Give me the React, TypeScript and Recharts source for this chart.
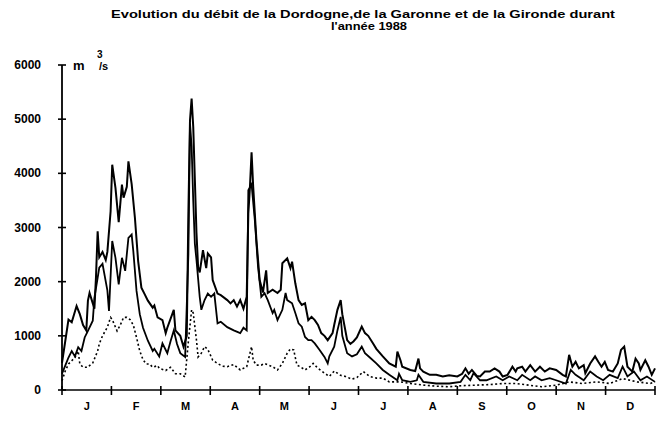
import React from 'react'
import { LineChart, Line, XAxis, YAxis } from 'recharts'

// day of year (0 = 1 Jan 1988) and daily flow in m3/s
const girondeDays = [0, 2, 4, 6, 9, 11, 13, 15, 16, 17, 19, 20, 21, 22, 23, 25, 27, 28, 30, 31, 33, 35, 37, 38, 40, 41, 43, 45, 47, 49, 51, 53, 56, 57, 59, 62, 64, 65, 69, 70, 73, 75, 77, 78, 79, 80, 81, 82, 83, 84, 85, 87, 89, 90, 92, 93, 96, 98, 102, 104, 106, 108, 110, 112, 114, 115, 116, 117, 118, 120, 122, 124, 126, 127, 130, 133, 135, 136, 139, 141, 142, 144, 146, 148, 150, 152, 154, 156, 158, 160, 162, 164, 167, 168, 170, 172, 173, 176, 178, 180, 182, 185, 187, 189, 192, 194, 198, 202, 206, 207, 209, 210, 215, 218, 220, 221, 223, 227, 231, 235, 239, 244, 247, 249, 251, 253, 256, 258, 261, 264, 267, 270, 272, 275, 278, 280, 281, 284, 286, 289, 292, 295, 298, 301, 305, 309, 311, 313, 315, 317, 319, 322, 323, 326, 329, 331, 333, 335, 337, 340, 343, 345, 347, 349, 352, 354, 356, 357, 360, 362, 364, 366]
const girondeFlow = [500, 900, 1300, 1250, 1550, 1400, 1200, 1100, 1650, 1790, 1600, 1500, 2100, 2930, 2450, 2550, 2400, 2550, 3300, 4160, 3730, 3100, 3790, 3550, 3750, 4220, 3800, 3180, 2380, 1890, 1770, 1650, 1520, 1560, 1340, 1290, 1050, 1150, 1480, 1100, 1000, 800, 1000, 3260, 4980, 5380, 4860, 3880, 2900, 2270, 2170, 2580, 2250, 2520, 2450, 2030, 1780, 1750, 1660, 1600, 1660, 1540, 1660, 1500, 1720, 3260, 3750, 4390, 3750, 2770, 2030, 1800, 2210, 1790, 1850, 1790, 1850, 2340, 2430, 2250, 2370, 1970, 1660, 1570, 1600, 1290, 1350, 1290, 1200, 1050, 1000, 920, 1050, 1200, 1480, 1660, 1400, 920, 850, 900, 970, 1170, 1050, 1000, 860, 760, 620, 490, 430, 710, 540, 430, 370, 350, 580, 400, 340, 280, 280, 250, 270, 250, 300, 400, 300, 370, 260, 250, 340, 340, 400, 340, 250, 280, 430, 340, 400, 430, 340, 460, 340, 430, 340, 400, 370, 280, 250, 650, 430, 520, 400, 460, 310, 490, 620, 520, 430, 520, 370, 340, 490, 740, 800, 430, 340, 580, 490, 370, 550, 430, 280, 400]

const garonneDays = [0, 2, 4, 6, 8, 10, 12, 14, 16, 19, 20, 22, 23, 25, 28, 29, 31, 33, 35, 37, 39, 41, 43, 44, 46, 48, 50, 53, 56, 57, 60, 62, 65, 67, 69, 71, 73, 76, 78, 79, 80, 81, 82, 83, 85, 86, 88, 90, 92, 94, 96, 98, 102, 106, 110, 112, 114, 115, 117, 119, 121, 123, 125, 127, 130, 131, 133, 136, 138, 139, 142, 144, 146, 148, 150, 152, 154, 156, 159, 162, 164, 165, 168, 170, 172, 173, 176, 179, 182, 185, 187, 190, 194, 198, 202, 207, 208, 210, 215, 219, 220, 223, 231, 239, 246, 249, 252, 254, 258, 262, 268, 272, 276, 281, 284, 289, 292, 296, 301, 305, 311, 314, 317, 322, 326, 330, 334, 338, 343, 346, 349, 353, 357, 361, 366]
const garonneFlow = [300, 450, 600, 720, 620, 790, 720, 970, 1090, 1280, 1700, 2070, 2260, 2330, 1840, 1460, 2750, 2440, 1950, 2440, 2200, 2810, 2870, 2570, 1830, 1400, 1150, 910, 720, 760, 620, 860, 680, 900, 1100, 850, 680, 610, 2500, 4920, 4500, 3500, 2700, 2400, 1720, 1480, 1660, 1780, 1720, 1780, 1230, 1260, 1160, 1100, 1050, 1150, 1100, 3690, 3800, 3140, 2270, 1720, 1790, 1660, 1420, 1480, 1290, 1480, 1790, 1660, 1600, 1420, 1230, 1170, 980, 920, 920, 860, 740, 610, 490, 620, 800, 1100, 1350, 1000, 680, 620, 660, 800, 680, 600, 490, 370, 280, 180, 300, 180, 150, 180, 280, 150, 120, 120, 150, 280, 180, 310, 180, 180, 250, 180, 250, 180, 280, 180, 250, 180, 220, 180, 120, 370, 280, 180, 340, 250, 180, 280, 220, 430, 250, 340, 180, 250, 150]

const dordogneDays = [0, 2, 4, 6, 8, 10, 11, 13, 16, 17, 19, 22, 23, 25, 28, 30, 31, 34, 36, 38, 40, 42, 44, 46, 48, 50, 52, 54, 56, 59, 60, 64, 67, 70, 73, 76, 78, 80, 81, 83, 84, 86, 88, 90, 93, 96, 99, 102, 106, 110, 114, 117, 118, 120, 123, 125, 130, 133, 136, 139, 141, 143, 145, 147, 150, 153, 155, 158, 162, 165, 168, 172, 175, 179, 182, 186, 190, 194, 198, 202, 209, 215, 223, 231, 239, 247, 256, 264, 272, 280, 288, 296, 305, 313, 321, 330, 338, 346, 355, 363, 366]
const dordogneFlow = [170, 350, 480, 540, 600, 720, 480, 420, 420, 450, 500, 720, 850, 1000, 1160, 1340, 1300, 1090, 1200, 1340, 1340, 1300, 1200, 970, 720, 560, 480, 480, 420, 450, 400, 360, 420, 300, 300, 240, 900, 1480, 1420, 920, 610, 680, 800, 750, 550, 490, 440, 430, 470, 370, 430, 800, 550, 460, 460, 490, 430, 370, 490, 680, 760, 740, 460, 430, 370, 430, 490, 400, 310, 250, 350, 270, 250, 200, 230, 340, 250, 220, 220, 150, 150, 120, 90, 70, 60, 80, 90, 100, 120, 120, 90, 60, 90, 150, 120, 150, 120, 210, 150, 120, 150]

const months = ['J', 'F', 'M', 'A', 'M', 'J', 'J', 'A', 'S', 'O', 'N', 'D']
const yTicks = [0, 1000, 2000, 3000, 4000, 5000, 6000]

const toPoints = (days: number[], flow: number[]) => days.map((d, i) => ({ day: d, flow: flow[i] }))
const gironde = toPoints(girondeDays, girondeFlow)
const garonne = toPoints(garonneDays, garonneFlow)
const dordogne = toPoints(dordogneDays, dordogneFlow)

const MONTH = 366 / 12
const boundaries = months.map((_, i) => i * MONTH).concat([366])
const mids = months.map((_, i) => i * MONTH + MONTH / 2)
const xTicks = [...boundaries, ...mids].sort((a, b) => a - b)

const FONT = '"Liberation Sans", Arial, sans-serif'

function MonthTick(props: any) {
  const { x, y, payload } = props
  const k = Math.round(payload.value / MONTH * 2)
  if (k % 2 === 0) {
    return <line x1={x} x2={x} y1={y - 4} y2={y + 5} stroke="#000" strokeWidth={1.6} />
  }
  return (
    <text x={x} y={y + 20} textAnchor="middle" fontFamily={FONT} fontWeight="bold" fontSize={11} fill="#000">
      {months[(k - 1) / 2]}
    </text>
  )
}

function FlowTick(props: any) {
  const { x, y, payload } = props
  return (
    <g>
      <line x1={x - 4} x2={x + 4} y1={y} y2={y} stroke="#000" strokeWidth={1.6} />
      <text x={x - 21} y={y + 4} textAnchor="end" fontFamily={FONT} fontWeight="bold" fontSize={12} fill="#000">
        {payload.value}
      </text>
    </g>
  )
}

export default function App() {
  return (
    <div style={{ width: 664, height: 428, background: '#fff' }}>
      <style>{'body{margin:0}'}</style>
      <LineChart width={664} height={428} margin={{ top: 65, right: 9, left: 0, bottom: 0 }}>
        <text x={363} y={18} textAnchor="middle" fontFamily={FONT} fontWeight="bold" fontSize={11.5} textLength={504} lengthAdjust="spacingAndGlyphs">
          Evolution du débit de la Dordogne,de la Garonne et de la Gironde durant
        </text>
        <text x={369} y={30} textAnchor="middle" fontFamily={FONT} fontWeight="bold" fontSize={11.5} textLength={76} lengthAdjust="spacingAndGlyphs">
          l'année 1988
        </text>
        <text x={73} y={70} fontFamily={FONT} fontWeight="bold" fontSize={13}>m</text>
        <text x={97} y={58} fontFamily={FONT} fontWeight="bold" fontSize={10}>3</text>
        <text x={99} y={70} fontFamily={FONT} fontWeight="bold" fontSize={11}>/s</text>
        <XAxis
          type="number"
          dataKey="day"
          domain={[0, 366]}
          ticks={xTicks}
          interval={0}
          height={38}
          tickLine={false}
          tickSize={0}
          tickMargin={0}
          axisLine={{ stroke: '#000', strokeWidth: 1.6 }}
          tick={<MonthTick />}
        />
        <YAxis
          type="number"
          domain={[0, 6000]}
          ticks={yTicks}
          interval={0}
          width={62}
          tickLine={false}
          tickSize={0}
          tickMargin={0}
          axisLine={{ stroke: '#000', strokeWidth: 1.8 }}
          tick={<FlowTick />}
        />
        <Line data={gironde} dataKey="flow" type="linear" stroke="#000" strokeWidth={2} dot={false} isAnimationActive={false} />
        <Line data={garonne} dataKey="flow" type="linear" stroke="#000" strokeWidth={1.8} dot={false} isAnimationActive={false} />
        <Line data={dordogne} dataKey="flow" type="linear" stroke="#000" strokeWidth={1.6} strokeDasharray="2 2.5" dot={false} isAnimationActive={false} />
      </LineChart>
    </div>
  )
}
